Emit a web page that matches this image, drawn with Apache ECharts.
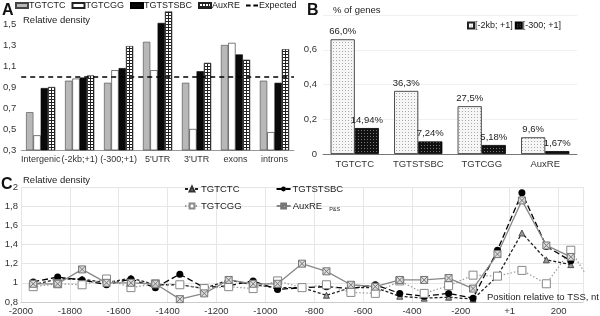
<!DOCTYPE html>
<html>
<head>
<meta charset="utf-8">
<script src="https://cdn.jsdelivr.net/npm/echarts@6/dist/echarts.min.js"></script>
<style>
  html, body { margin: 0; padding: 0; background: #fff; }
  #chart { width: 600px; height: 316px; }
</style>
</head>
<body>
<div id="chart"></div>
<script>
var FONT = "'Liberation Sans', Arial, sans-serif";

// panel A - relative density per region
var aCategories = ['Intergenic', '(-2kb;+1)', '(-300;+1)', "5'UTR", "3'UTR", 'exons', 'introns'];
var aTGTCTC   = [0.66, 0.96, 0.94, 1.33, 0.94, 1.30, 0.96];
var aTGTCGG   = [0.44, 0.98, 1.06, 1.06, 0.50, 1.32, 0.47];
var aTGTSTSBC = [0.89, 0.99, 1.08, 1.51, 1.05, 1.21, 0.94];
var aAuxRE    = [0.90, 1.01, 1.29, 1.62, 1.13, 1.16, 1.26];
var aExpected = 1;

// panel B - share of genes
var bCategories = ['TGTCTC', 'TGTSTSBC', 'TGTCGG', 'AuxRE'];
var b2kb  = [0.66, 0.363, 0.275, 0.096];
var b300  = [0.1494, 0.0724, 0.0518, 0.0167];
var b2kbLabels = ['66,0%', '36,3%', '27,5%', '9,6%'];
var b300Labels = ['14,94%', '7,24%', '5,18%', '1,67%'];

// panel C - density along the promoter
var cPositions = [-1950, -1850, -1750, -1650, -1550, -1450, -1350, -1250, -1150, -1050, -950, -850,
  -750, -650, -550, -450, -350, -250, -150, -50, 50, 150, 250, 350];
var cTGTCTC   = [0.98, 1.04, 1.04, 1.00, 1.05, 0.98, 0.98, 0.94, 1.03, 0.98, 0.95, 0.95,
  0.87, 0.95, 0.95, 0.86, 0.84, 0.85, 0.83, 1.07, 1.52, 1.24, 1.19];
var cTGTSTSBC = [1.01, 1.06, 1.03, 0.98, 1.04, 0.95, 1.09, 0.95, 0.97, 1.02, 0.93, 0.95,
  0.96, 0.94, 0.98, 0.89, 0.86, 0.89, 0.84, 1.34, 1.94, 1.38, 1.23];
var cTGTCGG   = [0.96, 0.99, 0.98, 1.04, 0.95, 0.99, 0.98, 0.94, 0.96, 0.94, 1.02, 0.95,
  0.98, 0.90, 0.89, 1.02, 0.89, 0.97, 1.08, 1.07, 1.13, 0.99, 1.34, 0.93];
var cAuxRE    = [0.99, 0.99, 1.14, 1.00, 1.00, 0.99, 0.83, 0.89, 1.03, 0.99, 0.99, 1.20,
  1.12, 0.98, 0.96, 1.03, 1.03, 1.05, 0.94, 1.30, 1.86, 1.39, 1.27];
var cTickLabels = {'0': '+1'};

function pairs(vals) {
  return vals.map(function (v, i) { return [cPositions[i], v]; });
}

function comma(v) {
  return String(+v.toFixed(2)).replace('.', ',');
}

// fill patterns
function pattern(size, bg, draw) {
  var c = document.createElement('canvas');
  c.width = size; c.height = size;
  var ctx = c.getContext('2d');
  ctx.fillStyle = bg;
  ctx.fillRect(0, 0, size, size);
  draw(ctx);
  return { image: c, repeat: 'repeat' };
}
var gridFill = pattern(3, '#fff', function (ctx) {
  ctx.fillStyle = '#222';
  ctx.fillRect(0, 0, 3, 1);
  ctx.fillRect(0, 0, 1, 3);
});
var dotLight = pattern(3, '#f6f6f6', function (ctx) {
  ctx.fillStyle = '#aaa';
  ctx.fillRect(0, 0, 1, 1);
});
var dotDark = pattern(3, '#111', function (ctx) {
  ctx.fillStyle = '#777';
  ctx.fillRect(1, 1, 1, 1);
});

var myChart = echarts.init(document.getElementById('chart'), null, { renderer: 'canvas' });

var axisText = { fontFamily: FONT, fontSize: 9.5, color: '#333' };
var titleText = { fontFamily: FONT, fontSize: 9.5, fontWeight: 'normal', color: '#222' };
var letterText = { fontFamily: FONT, fontSize: 16, fontWeight: 'bold', color: '#111' };
var legendText = { fontFamily: FONT, fontSize: 9, color: '#222', padding: [0, 0, 0, -4] };

var option = {
  animation: false,
  textStyle: { fontFamily: FONT },
  title: [
    { text: 'A', left: 2, top: 3, padding: 0, textStyle: letterText },
    { text: 'Relative density', left: 23, top: 15, padding: 0, textStyle: titleText },
    { text: 'B', left: 307, top: 3, padding: 0, textStyle: letterText },
    { text: '% of genes', left: 333, top: 5, padding: 0, textStyle: titleText },
    { text: 'C', left: 1, top: 177, padding: 0, textStyle: letterText },
    { text: 'Relative density', left: 23, top: 175, padding: 0, textStyle: titleText },
    { text: 'Position relative to TSS, nt', left: 487, top: 292, padding: 0,
      textStyle: { fontFamily: FONT, fontSize: 9.5, fontWeight: 'normal', color: '#222' } }
  ],
  legend: [
    {
      data: [
        { name: 'TGTCTC', icon: 'rect' },
        { name: 'TGTCGG', icon: 'rect' },
        { name: 'TGTSTSBC', icon: 'rect' },
        { name: 'AuxRE', icon: 'rect' },
        { name: 'Expected', icon: 'path://M0,0H5V2H0Z M8,0H13V2H8Z' }
      ],
      left: 15, top: 1, padding: 0, itemWidth: 12, itemHeight: 5, itemGap: 6,
      textStyle: legendText
    },
    {
      data: [{ name: '[-2kb; +1]', icon: 'rect' }, { name: '[-300; +1]', icon: 'rect' }],
      left: 467, top: 21, padding: 0, itemWidth: 6, itemHeight: 6, itemGap: 2,
      textStyle: legendText
    },
    {
      data: ['c_TGTCTC', 'c_TGTSTSBC'],
      left: 184, top: 184, padding: 0, itemWidth: 14, itemHeight: 6, itemGap: 36,
      formatter: function (n) { return n.slice(2); },
      textStyle: { fontFamily: FONT, fontSize: 9.5, color: '#222', padding: [0, 0, 0, -3] }
    },
    {
      data: ['c_TGTCGG', 'c_AuxRE'],
      left: 184, top: 201, padding: 0, itemWidth: 14, itemHeight: 6, itemGap: 34,
      formatter: function (n) { return n === 'c_AuxRE' ? '{n|AuxRE}{s|P&S}' : n.slice(2); },
      textStyle: {
        fontFamily: FONT, fontSize: 9.5, color: '#222', padding: [0, 0, 0, -3],
        rich: { n: { fontFamily: FONT, fontSize: 9.5, color: '#222' }, s: { fontFamily: FONT, fontSize: 5.5, color: '#222', padding: [7, 0, 0, 7] } }
      }
    }
  ],
  grid: [
    { left: 20, right: 306, top: 3, bottom: 166 },
    { left: 323, right: 23, top: 15, bottom: 162 },
    { left: 21, right: 17, top: 187, bottom: 14 }
  ],
  xAxis: [
    {
      gridIndex: 0, type: 'category', data: aCategories,
      axisLine: { lineStyle: { color: '#999' } },
      axisTick: { length: 4, lineStyle: { color: '#999' } },
      axisLabel: Object.assign({ margin: 5, interval: 0 }, axisText, { fontSize: 9 })
    },
    {
      gridIndex: 1, type: 'category', data: bCategories,
      axisLine: { lineStyle: { color: '#777' } },
      axisTick: { show: false },
      axisLabel: Object.assign({ margin: 5, interval: 0 }, axisText)
    },
    {
      gridIndex: 2, type: 'value', min: -2000, max: 300, interval: 200,
      axisLine: { onZero: false, lineStyle: { color: '#ccc' } },
      axisTick: { show: false },
      splitLine: { lineStyle: { color: '#e6e6e6' } },
      axisLabel: Object.assign({
        margin: 4, showMaxLabel: false,
        formatter: function (v) { return cTickLabels[v] || String(v); }
      }, axisText)
    }
  ],
  yAxis: [
    {
      gridIndex: 0, type: 'value', min: 0.3, max: 1.7, interval: 0.2,
      axisLine: { show: false }, axisTick: { show: false }, splitLine: { show: false },
      axisLabel: Object.assign({ margin: 5, showMaxLabel: false, formatter: comma }, axisText)
    },
    {
      gridIndex: 1, type: 'value', min: 0, max: 0.8, interval: 0.2,
      axisLine: { show: false }, axisTick: { show: false },
      splitLine: { lineStyle: { color: '#f0f0f0' } },
      axisLabel: Object.assign({ margin: 6, showMaxLabel: false, formatter: comma }, axisText)
    },
    {
      gridIndex: 2, type: 'value', min: 0.8, max: 2, interval: 0.2,
      axisLine: { show: false }, axisTick: { show: false },
      splitLine: { lineStyle: { color: '#e6e6e6' } },
      axisLabel: Object.assign({ margin: 3, formatter: comma }, axisText)
    }
  ],
  series: [
    // A
    {
      name: 'TGTCTC', type: 'bar', xAxisIndex: 0, yAxisIndex: 0, data: aTGTCTC,
      barGap: '0%', barCategoryGap: '25%',
      itemStyle: { color: '#b8b8b8', borderColor: '#444', borderWidth: 0.6 }
    },
    {
      name: 'TGTCGG', type: 'bar', xAxisIndex: 0, yAxisIndex: 0, data: aTGTCGG,
      itemStyle: { color: '#fff', borderColor: '#222', borderWidth: 0.6 }
    },
    {
      name: 'TGTSTSBC', type: 'bar', xAxisIndex: 0, yAxisIndex: 0, data: aTGTSTSBC,
      itemStyle: { color: '#0a0a0a', borderColor: '#000', borderWidth: 0.6 }
    },
    {
      name: 'AuxRE', type: 'bar', xAxisIndex: 0, yAxisIndex: 0, data: aAuxRE,
      itemStyle: { color: gridFill, borderColor: '#222', borderWidth: 0.6 }
    },
    {
      name: 'Expected', type: 'line', xAxisIndex: 0, yAxisIndex: 0, data: [],
      symbol: 'none', color: '#000',
      itemStyle: { color: '#000' },
      lineStyle: { color: '#000', type: [4, 3], width: 1.5 },
      markLine: {
        silent: true, symbol: 'none', label: { show: false },
        lineStyle: { color: '#000', type: [5, 4], width: 1.5 },
        data: [{ yAxis: aExpected }]
      }
    },
    // B
    {
      name: '[-2kb; +1]', type: 'bar', xAxisIndex: 1, yAxisIndex: 1, data: b2kb,
      barGap: '0%', barCategoryGap: '24%',
      itemStyle: { color: dotLight, borderColor: '#222', borderWidth: 0.8 },
      label: {
        show: true, position: 'top', distance: 3, fontFamily: FONT, fontSize: 9.5, color: '#222',
        formatter: function (p) { return b2kbLabels[p.dataIndex]; }
      }
    },
    {
      name: '[-300; +1]', type: 'bar', xAxisIndex: 1, yAxisIndex: 1, data: b300,
      itemStyle: { color: dotDark, borderColor: '#000', borderWidth: 0.8 },
      label: {
        show: true, position: 'top', distance: 3, fontFamily: FONT, fontSize: 9.5, color: '#222',
        formatter: function (p) { return b300Labels[p.dataIndex]; }
      }
    },
    // C
    {
      name: 'c_TGTCTC', type: 'line', xAxisIndex: 2, yAxisIndex: 2, data: pairs(cTGTCTC),
      symbol: 'triangle', symbolSize: 6,
      lineStyle: { color: '#222', type: [3, 2], width: 1.3 },
      itemStyle: { color: '#999', borderColor: '#333', borderWidth: 0.8 }
    },
    {
      name: 'c_TGTSTSBC', type: 'line', xAxisIndex: 2, yAxisIndex: 2, data: pairs(cTGTSTSBC),
      symbol: 'circle', symbolSize: 7,
      lineStyle: { color: '#000', type: [6, 3], width: 1.3 },
      itemStyle: { color: '#000', borderColor: '#000', borderWidth: 0 }
    },
    {
      name: 'c_TGTCGG', type: 'line', xAxisIndex: 2, yAxisIndex: 2, data: pairs(cTGTCGG),
      symbol: 'rect', symbolSize: 8,
      lineStyle: { color: '#999', type: [1.5, 2], width: 1.2 },
      itemStyle: { color: '#fff', borderColor: '#888', borderWidth: 1 }
    },
    {
      name: 'c_AuxRE', type: 'line', xAxisIndex: 2, yAxisIndex: 2, data: pairs(cAuxRE),
      symbol: 'path://M0,0L10,10M10,0L0,10M0,0H10V10H0Z', symbolSize: 7,
      lineStyle: { color: '#888', type: 'solid', width: 1.3 },
      itemStyle: { color: '#ddd', borderColor: '#777', borderWidth: 1 }
    }
  ]
};

myChart.setOption(option);
window.addEventListener('resize', function () {
  myChart.resize();
});
</script>
</body>
</html>
